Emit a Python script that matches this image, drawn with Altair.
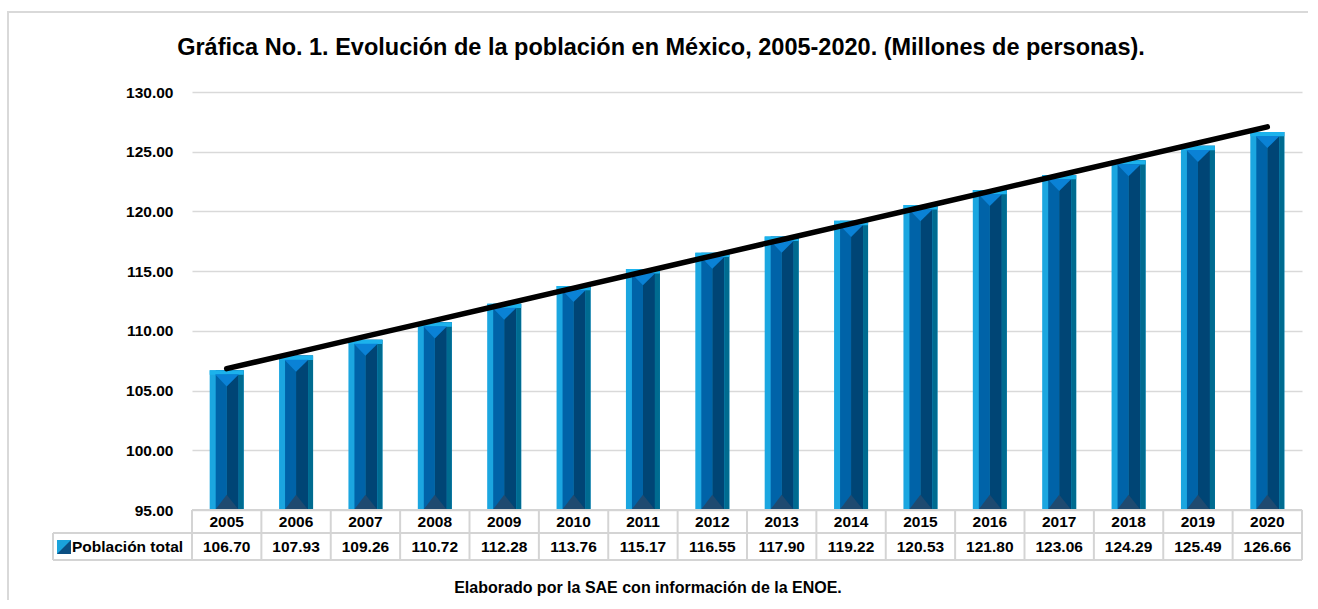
import altair as alt
import pandas as pd
import numpy as np

years = ["2005", "2006", "2007", "2008", "2009", "2010", "2011", "2012",
         "2013", "2014", "2015", "2016", "2017", "2018", "2019", "2020"]
values = [106.70, 107.93, 109.26, 110.72, 112.28, 113.76, 115.17, 116.55,
          117.90, 119.22, 120.53, 121.80, 123.06, 124.29, 125.49, 126.66]
y_ticks = [95, 100, 105, 110, 115, 120, 125, 130]
title_text = "Gráfica No. 1. Evolución de la población en México, 2005-2020. (Millones de personas)."
footer_text = "Elaborado por la SAE con información de la ENOE."
series_name = "Población total"

W, H = 1110, 418
FONT = "Liberation Sans"

xi = np.arange(len(years))
slope, intercept = np.polyfit(xi, values, 1)
df = pd.DataFrame({
    "Year": years,
    "Valor": values,
    "Trend": intercept + slope * xi,
    "Label": [f"{v:.2f}" for v in values],
})
one = pd.DataFrame({"k": [0]})

X = alt.X("Year:N", sort=years, axis=None,
          scale=alt.Scale(paddingInner=0, paddingOuter=0))
YD = alt.Scale(domain=[95, 130], zero=False, nice=False)

base = alt.Chart(df)

bar_body = base.mark_bar(width=34, color="#1ba6e0").encode(
    x=X,
    y=alt.Y("Valor:Q", scale=YD, title=None,
            axis=alt.Axis(values=y_ticks, format=".2f", grid=True, gridColor="#d9d9d9",
                          gridWidth=1.3, domain=False, ticks=False, labelPadding=19,
                          labelFontSize=15.5, labelFontWeight="bold", labelFont=FONT,
                          labelColor="black", labelBaseline="middle")),
    y2=alt.datum(95),
)
bar_mid = base.mark_bar(width=11, xOffset=-5.5, color="#0063a8").encode(
    x=X, y=alt.Y("Valor:Q", scale=YD), y2=alt.datum(95))
bar_dark = base.mark_bar(width=12, xOffset=6, color="#004575").encode(
    x=X, y=alt.Y("Valor:Q", scale=YD), y2=alt.datum(95))
bar_right = base.mark_bar(width=5, xOffset=14.5, color="#006b90").encode(
    x=X, y=alt.Y("Valor:Q", scale=YD), y2=alt.datum(95))

top_strip = base.mark_point(shape="M-1,0L1,0L1,0.26L-1,0.26Z", size=1156, filled=True,
                            opacity=1, strokeWidth=0, color="#1cb2ec").encode(
    x=X, y=alt.Y("Valor:Q", scale=YD))
top_tri = base.mark_point(shape="M-0.68,0.24L0.72,0.24L0,0.95Z", size=1156, filled=True,
                          opacity=1, strokeWidth=0, color="#0a82d6").encode(
    x=X, y=alt.Y("Valor:Q", scale=YD))
bot_tri = base.mark_point(shape="M-0.68,0L0.72,0L0,-0.9Z", size=1156, filled=True,
                          opacity=1, strokeWidth=0, color="#1f4a70").encode(
    x=X, y=alt.datum(95))

trend = base.mark_line(color="black", strokeWidth=5.5, strokeCap="round").encode(
    x=X, y=alt.Y("Trend:Q", scale=YD))

border_col = "#d4d4d4"
v_rules = base.mark_rule(color=border_col, strokeWidth=2).encode(
    x=alt.X("Year:N", sort=years, axis=None, bandPosition=0,
            scale=alt.Scale(paddingInner=0, paddingOuter=0)),
    y=alt.value(H), y2=alt.value(H + 50))
frame = alt.Chart(one)
r_end = frame.mark_rule(color=border_col, strokeWidth=2).encode(
    x=alt.value(W), y=alt.value(H), y2=alt.value(H + 50))
r_left = frame.mark_rule(color=border_col, strokeWidth=2).encode(
    x=alt.value(-139), y=alt.value(H + 23), y2=alt.value(H + 50))
h_top = frame.mark_rule(color=border_col, strokeWidth=2).encode(
    x=alt.value(0), x2=alt.value(W), y=alt.value(H))
h_mid = frame.mark_rule(color=border_col, strokeWidth=2).encode(
    x=alt.value(-139), x2=alt.value(W), y=alt.value(H + 23))
h_bot = frame.mark_rule(color=border_col, strokeWidth=2).encode(
    x=alt.value(-139), x2=alt.value(W), y=alt.value(H + 50))

year_txt = base.mark_text(font=FONT, fontSize=15.5, fontWeight="bold", color="black",
                          baseline="middle").encode(
    x=X, y=alt.value(H + 11.5), text="Year:N")
val_txt = base.mark_text(font=FONT, fontSize=15.5, fontWeight="bold", color="black",
                         baseline="middle").encode(
    x=X, y=alt.value(H + 36.5), text="Label:N")

leg_light = frame.mark_point(shape="M-1,-1L1,-1L1,1L-1,1Z", size=196, filled=True, opacity=1,
                             strokeWidth=0, color="#1aa3dc").encode(
    x=alt.value(-128), y=alt.value(H + 37))
leg_dark = frame.mark_point(shape="M1,-1L1,1L-1,1Z", size=196, filled=True, opacity=1,
                            strokeWidth=0, color="#0b4f82").encode(
    x=alt.value(-128), y=alt.value(H + 37))
leg_txt = frame.mark_text(font=FONT, fontSize=15.5, fontWeight="bold", color="black",
                          align="left", baseline="middle", text=series_name).encode(
    x=alt.value(-120), y=alt.value(H + 36.5))

title = frame.mark_text(font=FONT, fontSize=23.5, fontWeight="bold", color="black",
                        align="center", baseline="alphabetic", text=title_text).encode(
    x=alt.value(469), y=alt.value(-37))
footer = frame.mark_text(font=FONT, fontSize=16, fontWeight="bold", color="black",
                         align="center", baseline="alphabetic", text=footer_text).encode(
    x=alt.value(456), y=alt.value(501))

outer_top = frame.mark_rule(color="#d9d9d9", strokeWidth=2).encode(
    x=alt.value(-185), x2=alt.value(W + 40), y=alt.value(-80))
outer_left = frame.mark_rule(color="#d9d9d9", strokeWidth=2).encode(
    x=alt.value(-184), y=alt.value(-81), y2=alt.value(H + 140))

chart = alt.layer(
    outer_top, outer_left, bar_body, bar_mid, bar_dark, bar_right, top_strip, top_tri, bot_tri,
    v_rules, r_end, r_left, h_top, h_mid, h_bot,
    trend, year_txt, val_txt, leg_light, leg_dark, leg_txt, title, footer,
).properties(
    width=W, height=H,
    autosize=alt.AutoSizeParams(type="none"),
    padding={"left": 192, "top": 92, "right": 6, "bottom": 90},
    background="white",
).configure_view(stroke=None)

chart.save("out.html", embed_options={"renderer": "svg", "actions": False})
